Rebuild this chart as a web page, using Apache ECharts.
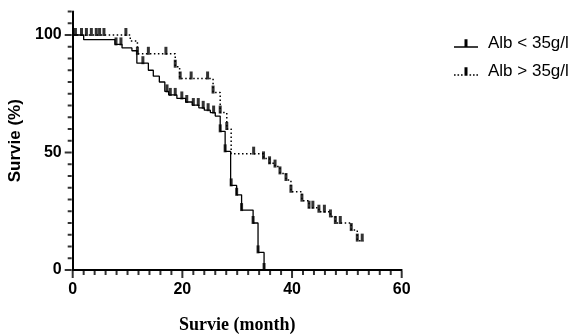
<!DOCTYPE html>
<html>
<head>
<meta charset="utf-8">
<script src="https://cdn.jsdelivr.net/npm/echarts@6/dist/echarts.min.js"></script>
<style>
  html, body { margin: 0; padding: 0; background: #fff; }
  #container { width: 576px; height: 336px; }
</style>
</head>
<body>
<div id="container"></div>
<script>
// Kaplan-Meier steps (months, survival %)
const lowTime = [0, 2, 7.7, 9, 10.8, 11.7, 13.8, 14.7, 15.8, 16.8, 17.5, 19, 20.6, 21.8, 23, 24, 25.1, 26, 26.9, 27.8, 28.8, 29.9, 30.8, 32.9, 33.8, 34.9];
const lowSurv = [100, 98, 96, 94.5, 93.3, 88, 85, 82.5, 80, 76, 74.5, 73, 71.5, 70.2, 69, 68, 67, 65.5, 59, 50.5, 36, 32, 25.5, 20, 7.5, 0];
const lowCensored = [7.9, 8.8, 12.8, 17.2, 17.8, 18.7, 19.9, 20.8, 22, 22.9, 23.8, 24.7, 25.7, 26.9, 27.8, 28.9, 29.9, 30.8, 32.9, 33.8, 34.9];

const highTime = [0, 10.5, 11.8, 18.7, 19.5, 25.6, 26.9, 28.1, 28.9, 34.8, 35.9, 36.9, 37.8, 38.9, 39.8, 41.8, 43.1, 44.9, 47.0, 47.9, 50.8, 51.9, 53];
const highSurv = [100, 97.5, 92, 86.5, 81.5, 75.5, 67, 60, 49.5, 47.5, 45.4, 44, 41.1, 38.3, 33.3, 29.5, 26.5, 24.8, 22.8, 20, 17, 12.5, 12.5];
const highCensored = [0.5, 1.6, 2.5, 3.4, 4.3, 4.9, 5.7, 9.7, 11.8, 13.8, 17, 18.7, 19.6, 21.6, 24.6, 25.6, 26.9, 28.1, 33, 34.8, 35.9, 36.9, 37.8, 38.9, 39.8, 41.8, 43.1, 43.8, 44.9, 45.9, 47, 47.9, 48.8, 50.8, 51.9, 52.8];

const seriesNames = ["Alb < 35g/l", "Alb > 35g/l"];

// axis ticks (axis units)
const xMajorTicks = [0, 20, 40, 60];
const xMinorTicks = [2, 4, 6, 8, 10, 12, 14, 16, 18, 22, 24, 26, 28, 30, 32, 34, 36, 38, 42, 44, 46, 48, 50, 52, 54, 56, 58];
const yMajorTicks = [0, 50, 100];
const yMinorTicks = [5, 10, 15, 20, 25, 30, 35, 40, 45, 55, 60, 65, 70, 75, 80, 85, 90, 95, 105, 110];

function pairs(t, s) {
  return t.map((v, i) => [v, s[i]]);
}

// survival at a censor time = last step at or before it
function marks(times, t, s) {
  return times.map((c) => {
    let v = s[0];
    for (let i = 0; i < t.length; i++) {
      if (t[i] <= c) v = s[i];
    }
    return [c, v];
  });
}

// tick marks drawn as small bars through the axes' own scales
function tickSeries(data, size, offset) {
  return {
    type: "scatter",
    data: data,
    symbol: "rect",
    symbolSize: size,
    symbolOffset: offset,
    clip: false,
    silent: true,
    z: 1,
    itemStyle: { color: "#000" },
  };
}

const solidIcon = "path://M0 7h24v1.4H0z M10.5 0h3v8.4h-3z";
const dotIcon = "path://M0 7h1.6v1.4H0z M3.5 7h1.6v1.4H3.5z M7 7h1.6v1.4H7z M10.5 0h3v8.4h-3z M15.5 7h1.6v1.4h-1.6z M19 7h1.6v1.4H19z M22.4 7h1.6v1.4h-1.6z";

const chart = echarts.init(document.getElementById("container"));

const option = {
  animation: false,
  backgroundColor: "#fff",
  grid: { left: 72.7, right: 174.3, top: 11.5, bottom: 66, outerBoundsMode: "none" },
  legend: {
    orient: "vertical",
    left: 449,
    top: 29,
    itemWidth: 24,
    itemHeight: 10,
    itemGap: 9,
    textStyle: { fontFamily: "Liberation Sans", fontSize: 17, color: "#000", lineHeight: 19, padding: [0, 0, 0, 5] },
    data: [
      { name: seriesNames[0], icon: solidIcon },
      { name: seriesNames[1], icon: dotIcon },
    ],
  },
  xAxis: {
    type: "value",
    min: 0,
    max: 60,
    interval: 20,
    name: "Survie (month)",
    nameLocation: "middle",
    nameGap: 46,
    nameTextStyle: { fontFamily: "Liberation Serif", fontWeight: "bold", fontSize: 18, color: "#000" },
    axisLine: { show: true, onZero: false, lineStyle: { color: "#000", width: 2 } },
    axisTick: { show: false },
    splitLine: { show: false },
    axisLabel: {
      margin: 12,
      fontFamily: "Liberation Sans",
      fontWeight: "bold",
      fontSize: 16,
      color: "#000",
    },
  },
  yAxis: {
    type: "value",
    min: 0,
    max: 110,
    interval: 5,
    name: "Survie (%)",
    nameLocation: "middle",
    nameGap: 45,
    nameTextStyle: { fontFamily: "Liberation Sans", fontWeight: "bold", fontSize: 17, color: "#000" },
    axisLine: { show: true, lineStyle: { color: "#000", width: 2 } },
    axisTick: { show: false },
    splitLine: { show: false },
    axisLabel: {
      margin: 11,
      fontFamily: "Liberation Sans",
      fontWeight: "bold",
      fontSize: 16,
      color: "#000",
      formatter: (v) => (yMajorTicks.includes(v) ? String(v) : ""),
    },
  },
  series: [
    {
      name: seriesNames[0],
      type: "line",
      step: "end",
      data: pairs(lowTime, lowSurv),
      symbol: "none",
      z: 3,
      lineStyle: { color: "#000", width: 1.3 },
      itemStyle: { color: "#000" },
    },
    {
      name: seriesNames[1],
      type: "line",
      step: "end",
      data: pairs(highTime, highSurv),
      symbol: "none",
      z: 3,
      lineStyle: { color: "#000", width: 1.5, type: [1.5, 2.5] },
      itemStyle: { color: "#000" },
    },
    {
      type: "scatter",
      data: marks(lowCensored, lowTime, lowSurv),
      symbol: "rect",
      symbolSize: [3, 8],
      symbolOffset: [0, -3],
      z: 4,
      itemStyle: { color: "#000" },
    },
    {
      type: "scatter",
      data: marks(highCensored, highTime, highSurv),
      symbol: "rect",
      symbolSize: [3, 8],
      symbolOffset: [0, -3],
      z: 4,
      itemStyle: { color: "#000" },
    },
    tickSeries(xMajorTicks.map((v) => [v, 0]), [2, 7], [0, 4.5]),
    tickSeries(xMinorTicks.map((v) => [v, 0]), [2, 4], [0, 3]),
    tickSeries(yMajorTicks.map((v) => [0, v]), [7, 2], [-4.5, 0]),
    tickSeries(yMinorTicks.map((v) => [0, v]), [4, 2], [-3, 0]),
  ],
};

chart.setOption(option);
</script>
</body>
</html>
